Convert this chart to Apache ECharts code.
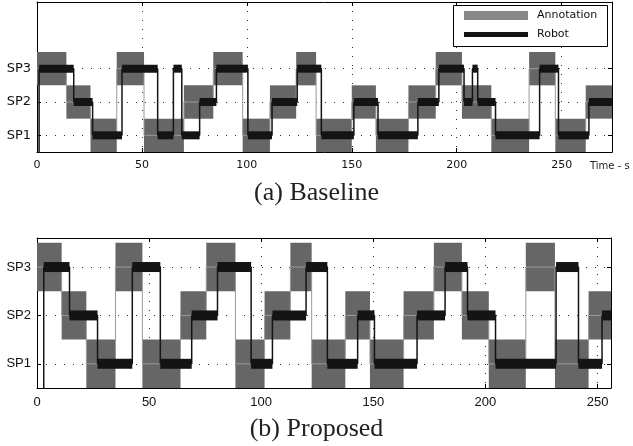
<!DOCTYPE html>
<html>
<head>
<meta charset="utf-8">
<script src="https://cdn.jsdelivr.net/npm/echarts@6/dist/echarts.min.js"></script>
<style>
  html, body { margin: 0; padding: 0; background: #fff; }
  #chart { width: 633px; height: 446px; }
</style>
</head>
<body>
<div id="chart"></div>
<script>
// tick labels
var xTicks = [0, 50, 100, 150, 200, 250];
var yTicks = [1, 2, 3];
var yTickLabels = ['SP1', 'SP2', 'SP3'];

// (a) Baseline: switch times (s) and level held after each switch
var baseAnnoTimes = [0, 14, 25.5, 38, 51, 70, 84, 98, 111, 123.5, 133, 150, 161.5, 177, 190, 202.5, 216.5, 234.5, 247, 261.5, 274];
var baseAnnoLevels = [3, 2, 1, 3, 1, 2, 3, 1, 2, 3, 1, 2, 1, 2, 3, 2, 1, 3, 1, 2];
var baseRobotTimes = [1, 17.5, 26.5, 40.5, 57.5, 65, 69, 77.5, 85.5, 100.5, 112, 124, 135.5, 151, 162.5, 181.5, 191.5, 203.5, 207.5, 210, 218.5, 239.5, 248.5, 263, 274];
var baseRobotLevels = [3, 2, 1, 3, 1, 3, 1, 2, 3, 1, 2, 3, 1, 2, 1, 2, 3, 2, 3, 2, 1, 3, 1, 2];

// (b) Proposed
var propAnnoTimes = [0, 11, 22, 35, 47, 64, 75.5, 88.5, 101.5, 113, 122.5, 137.5, 148.5, 163.5, 177, 189.5, 201.5, 218, 231, 246, 256];
var propAnnoLevels = [3, 2, 1, 3, 1, 2, 3, 1, 2, 3, 1, 2, 1, 2, 3, 2, 1, 3, 1, 2];
var propRobotTimes = [3, 14.5, 27, 42.5, 55, 69, 80.5, 95.5, 105, 120, 129.5, 143, 150.5, 169.5, 182, 192, 204.5, 231.5, 241.5, 252, 256];
var propRobotLevels = [3, 2, 1, 3, 1, 2, 3, 1, 2, 3, 1, 2, 1, 2, 3, 2, 1, 3, 1, 2];

function segments(times, levels) {
  var out = [];
  for (var i = 0; i < levels.length; i++) out.push([times[i], times[i + 1], levels[i]]);
  return out;
}

// step polyline through the segments; optional start from level 0 (below the axis)
function stepPoints(times, levels, fromZero) {
  var pts = fromZero ? [[times[0], 0]] : [];
  for (var i = 0; i < levels.length; i++) {
    pts.push([times[i], levels[i]]);
    pts.push([times[i + 1], levels[i]]);
  }
  return pts;
}

function clipRect(r, params) {
  return echarts.graphic.clipRectByRect(r, {
    x: params.coordSys.x, y: params.coordSys.y,
    width: params.coordSys.width, height: params.coordSys.height
  });
}

function bandItem(params, api) {
  var p0 = api.coord([api.value(0), api.value(2) + 0.5]);
  var p1 = api.coord([api.value(1), api.value(2) - 0.5]);
  var shape = clipRect({ x: p0[0], y: p0[1], width: p1[0] - p0[0], height: p1[1] - p0[1] }, params);
  return shape && { type: 'rect', shape: shape, style: { fill: '#666666' } };
}

function barItem(h) {
  return function (params, api) {
    var p0 = api.coord([api.value(0), api.value(2)]);
    var p1 = api.coord([api.value(1), api.value(2)]);
    var shape = clipRect({ x: p0[0], y: p0[1] - h / 2, width: p1[0] - p0[0], height: h }, params);
    return shape && { type: 'rect', shape: shape, style: { fill: '#141414' } };
  };
}

var dotted = { show: true, lineStyle: { color: '#333', width: 1, type: [1, 8] } };
var edge = { show: true, onZero: false, lineStyle: { color: '#000', width: 1 } };

function makeAxes(gi, xMax, yMax, font, xSize, ySize, withName) {
  var xs = [{
    gridIndex: gi, type: 'value', min: 0, max: xMax, position: 'bottom',
    axisLine: edge,
    axisTick: { show: true, inside: true, length: 4, customValues: xTicks, lineStyle: { color: '#000' } },
    axisLabel: { customValues: xTicks, margin: 8, color: '#111', fontFamily: font, fontSize: xSize },
    splitLine: dotted,
    name: withName ? 'Time - s' : '',
    nameLocation: 'end', nameGap: -22,
    nameTextStyle: { fontFamily: font, fontSize: 10, color: '#222', verticalAlign: 'top', padding: [9, 0, 0, 0] }
  }, {
    gridIndex: gi, type: 'value', min: 0, max: xMax, position: 'top',
    axisLine: edge,
    axisTick: { show: true, inside: true, length: 4, customValues: xTicks, lineStyle: { color: '#000' } },
    axisLabel: { show: false }, splitLine: { show: false }
  }];
  var ys = [{
    gridIndex: gi, type: 'value', min: 0.5, max: yMax, position: 'left',
    axisLine: edge,
    axisTick: { show: true, inside: true, length: 4, customValues: yTicks, lineStyle: { color: '#000' } },
    axisLabel: {
      customValues: yTicks, margin: 6, color: '#111', fontFamily: font, fontSize: ySize,
      formatter: function (v) { return yTickLabels[yTicks.indexOf(v)] || ''; }
    },
    splitLine: dotted
  }, {
    gridIndex: gi, type: 'value', min: 0.5, max: yMax, position: 'right',
    axisLine: edge,
    axisTick: { show: true, inside: true, length: 4, customValues: yTicks, lineStyle: { color: '#000' } },
    axisLabel: { show: false }, splitLine: { show: false }
  }];
  return { x: xs, y: ys };
}

function plotSeries(xi, yi, annoT, annoL, robT, robL, barH) {
  return [{
    name: 'Annotation', type: 'custom', xAxisIndex: xi, yAxisIndex: yi,
    renderItem: bandItem, encode: { x: [0, 1], y: 2 },
    data: segments(annoT, annoL), z: 2
  }, {
    name: 'Annotation', type: 'line', xAxisIndex: xi, yAxisIndex: yi,
    data: stepPoints(annoT, annoL, false), showSymbol: false,
    lineStyle: { color: '#9a9a9a', width: 1 }, z: 3
  }, {
    name: 'Robot', type: 'custom', xAxisIndex: xi, yAxisIndex: yi,
    renderItem: barItem(barH), encode: { x: [0, 1], y: 2 },
    data: segments(robT, robL), z: 4
  }, {
    name: 'Robot', type: 'line', xAxisIndex: xi, yAxisIndex: yi,
    data: stepPoints(robT, robL, true), showSymbol: false,
    lineStyle: { color: '#141414', width: 1.5 }, z: 5
  }];
}

var topAx = makeAxes(0, 274, 5, 'DejaVu Sans', 11, 13, true);
var botAx = makeAxes(1, 256, 3.6, 'Liberation Sans', 13, 13, false);

var chart = echarts.init(document.getElementById('chart'));
chart.setOption({
  animation: false,
  backgroundColor: '#fff',
  grid: [
    { left: 37, top: 2, width: 575, height: 150 },
    { left: 37, top: 238, width: 574, height: 150 }
  ],
  xAxis: topAx.x.concat(botAx.x),
  yAxis: topAx.y.concat(botAx.y),
  title: [
    { text: '(a) Baseline', left: 'center', top: 180, padding: 0,
      textStyle: { fontFamily: 'Liberation Serif', fontSize: 26, fontWeight: 'normal', color: '#222' } },
    { text: '(b) Proposed', left: 'center', top: 416, padding: 0,
      textStyle: { fontFamily: 'Liberation Serif', fontSize: 26, fontWeight: 'normal', color: '#222' } }
  ],
  legend: [
    { data: [{ name: 'Annotation', icon: 'rect', itemStyle: { color: '#888' } }],
      left: 464, top: 10, padding: 0, itemWidth: 64, itemHeight: 9, selectedMode: false, z: 20,
      textStyle: { fontFamily: 'DejaVu Sans', fontSize: 11, color: '#111', padding: [0, 0, 0, 4] } },
    { data: [{ name: 'Robot', icon: 'rect', itemStyle: { color: '#141414' } }],
      left: 464, top: 29, padding: 0, itemWidth: 64, itemHeight: 5, selectedMode: false, z: 20,
      textStyle: { fontFamily: 'DejaVu Sans', fontSize: 11, color: '#111', padding: [0, 0, 0, 4] } }
  ],
  graphic: [{
    type: 'rect', left: 453, top: 5, z: 10,
    shape: { width: 154, height: 41 },
    style: { fill: '#fff', stroke: '#000', lineWidth: 1 }
  }],
  series: plotSeries(0, 0, baseAnnoTimes, baseAnnoLevels, baseRobotTimes, baseRobotLevels, 8)
    .concat(plotSeries(2, 2, propAnnoTimes, propAnnoLevels, propRobotTimes, propRobotLevels, 10))
});
</script>
</body>
</html>
